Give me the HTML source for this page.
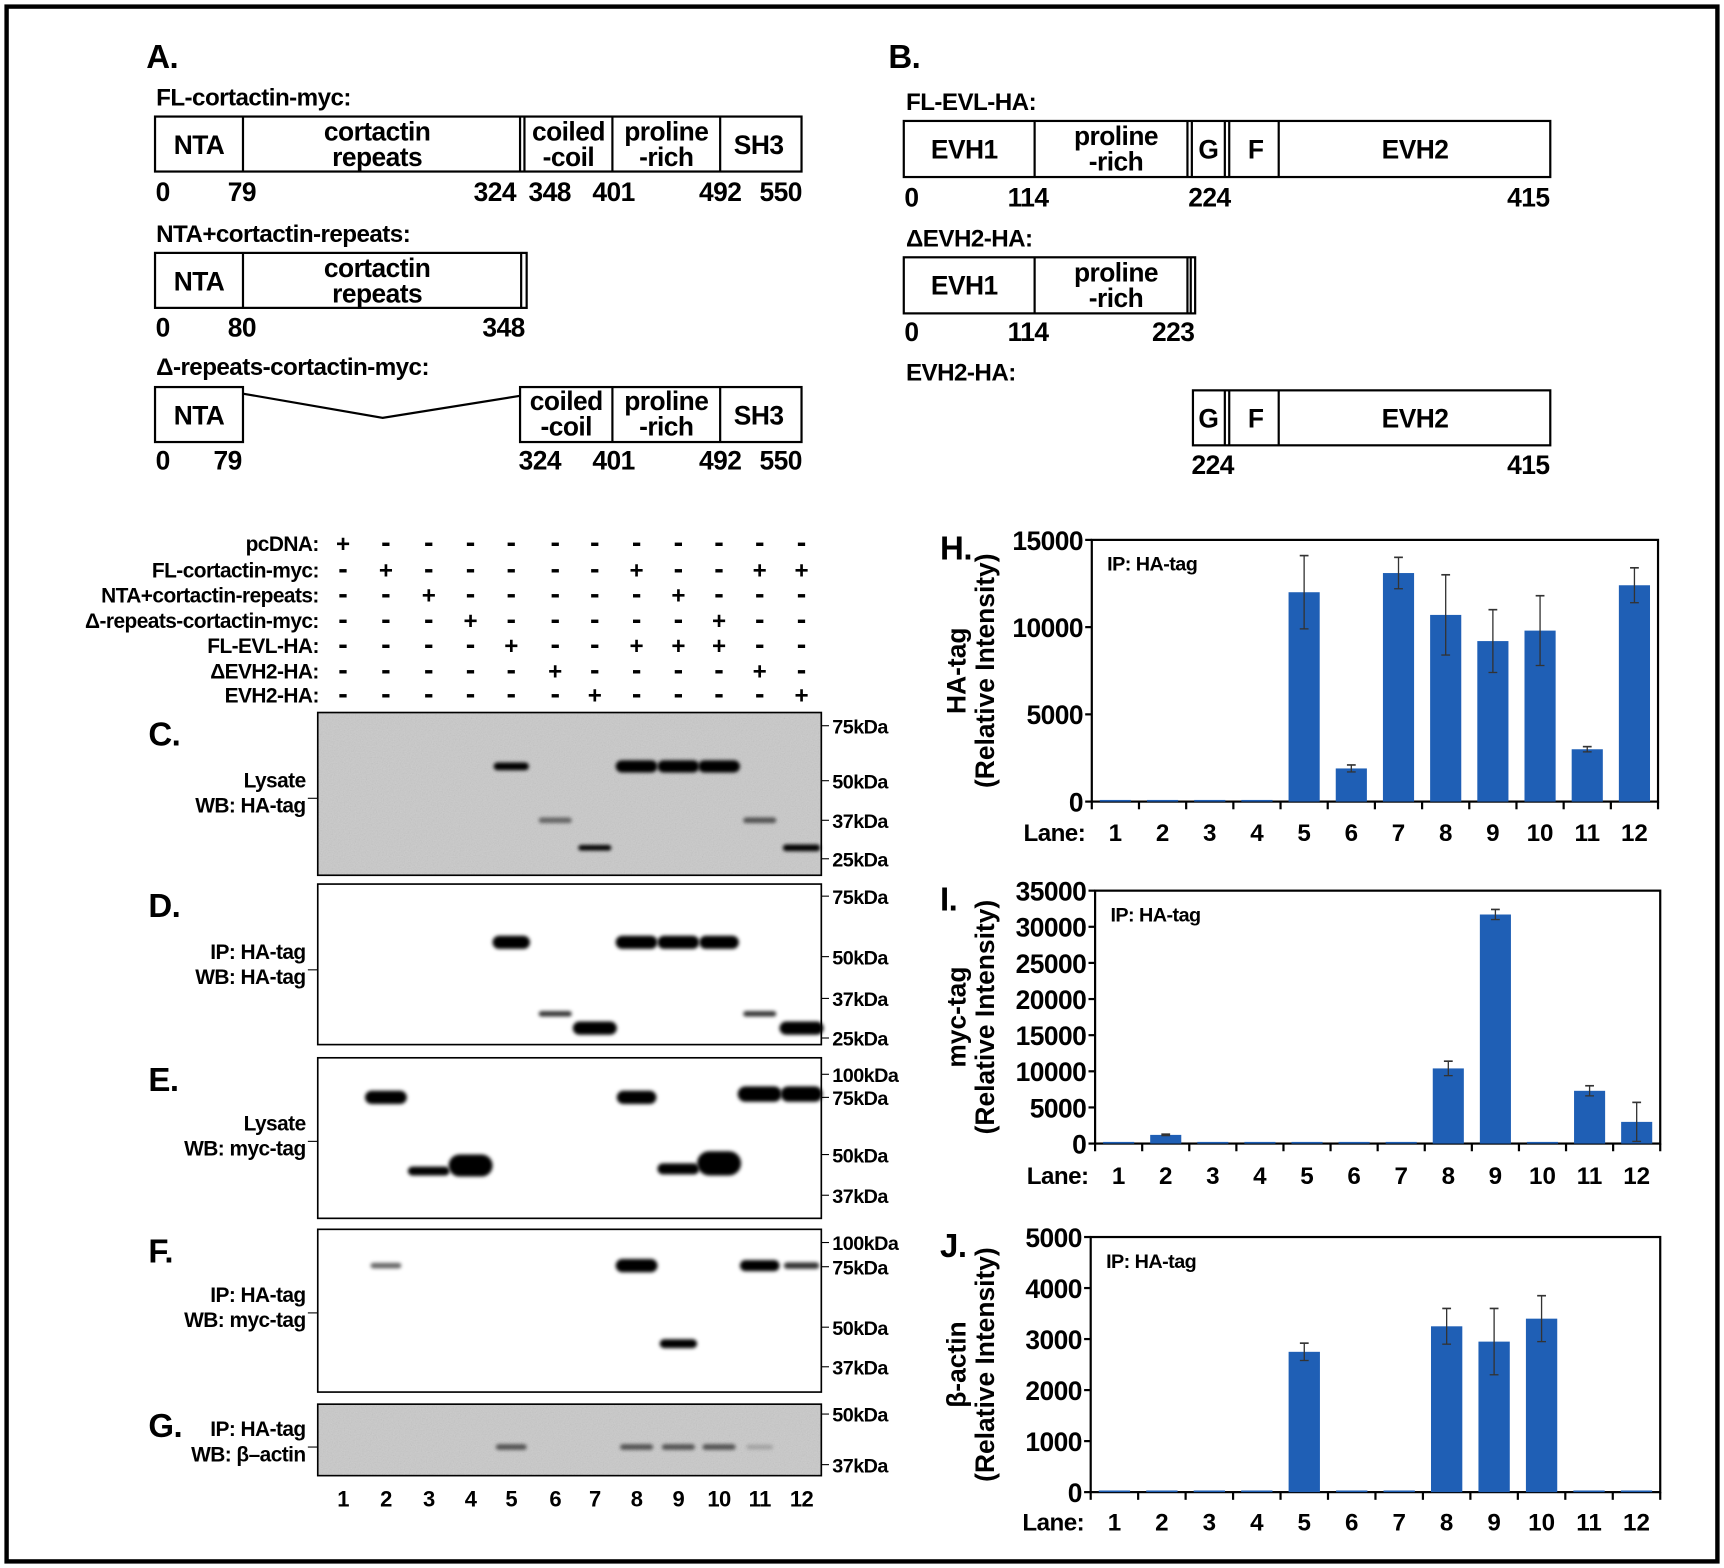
<!DOCTYPE html>
<html><head><meta charset="utf-8">
<style>
html,body{margin:0;padding:0;background:#fff;}
svg{display:block;}
text{font-family:"Liberation Sans Narrow","Liberation Sans",Arial,sans-serif;font-weight:bold;fill:#000;letter-spacing:-0.5px;}
.w{font-family:"Liberation Sans",Arial,sans-serif;letter-spacing:0;}
</style></head>
<body>
<svg id="fig" width="1724" height="1568" viewBox="0 0 1568 1426" preserveAspectRatio="none" xmlns="http://www.w3.org/2000/svg">
<defs>
<filter id="blur" x="-20%" y="-100%" width="140%" height="300%"><feGaussianBlur stdDeviation="1.6"/></filter>
<filter id="noise" x="0" y="0" width="1" height="1" filterUnits="objectBoundingBox"><feTurbulence type="fractalNoise" baseFrequency="0.9" numOctaves="2" result="n"/><feColorMatrix type="saturate" values="0"/><feComponentTransfer><feFuncA type="table" tableValues="0 0.25"/></feComponentTransfer></filter>
</defs>
<rect x="6" y="6" width="1556" height="1414" fill="none" stroke="#000" stroke-width="4"/>
<g id="diagrams" stroke-width="2"></g>
<g id="blots"></g>
<g id="charts"></g>
</svg>
<script>
// ---- chart data ----
const lanes = ["1","2","3","4","5","6","7","8","9","10","11","12"];
const haValues = [0,0,0,0,12000,1900,13100,10700,9200,9800,3000,12400];
const haErrors = [0,0,0,0,2100,200,900,2300,1800,2000,150,1000];
const haTicks = [0,5000,10000,15000];
const mycValues = [0,1200,0,0,0,0,0,10400,31700,0,7300,3000];
const mycErrors = [0,100,0,0,0,0,0,1000,700,0,700,2700];
const mycTicks = [0,5000,10000,15000,20000,25000,30000,35000];
const actinValues = [0,0,0,0,2750,0,0,3250,2950,3400,0,0];
const actinErrors = [0,0,0,0,170,0,0,350,650,450,0,0];
const actinTicks = [0,1000,2000,3000,4000,5000];

const NS="http://www.w3.org/2000/svg";
function mk(parent,tag,attrs,txt){const e=document.createElementNS(NS,tag);for(const k in attrs)e.setAttribute(k,attrs[k]);if(txt!==undefined)e.textContent=txt;parent.appendChild(e);return e;}

// ---- domain diagrams ----
const D=document.getElementById('diagrams');
function T(x,y,s,size,anchor,name){const t=mk(D,'text',{x:x,y:y,'font-size':size||24,'text-anchor':anchor||'middle'},s);

return t;}
function box(x,y,w,h,name){const r=mk(D,'rect',{x:x,y:y,width:w,height:h,fill:'#fff',stroke:'#000','stroke-width':2});

}
function vl(x,y1,y2){mk(D,'line',{x1:x,x2:x,y1:y1,y2:y2,stroke:'#000','stroke-width':2});}
function two(x,y,a,b,size){T(x,y,a,size,'middle','domain-label');T(x,y+23,b,size,'middle','domain-label');}

T(133,62,'A.',30,'start','panel-a-label');
T(142,96,'FL-cortactin-myc:',22,'start','fl-cortactin-title');
box(141,106,588,50,'fl-cortactin-box');vl(221,106,156);vl(473,106,156);vl(477,106,156);vl(557,106,156);vl(655,106,156);
T(181,140,'NTA',24);two(343,128,'cortactin','repeats',24);two(517,128,'coiled','-coil',24);two(606,128,'proline','-rich',24);T(690,140,'SH3',24);
[[148,'0'],[220,'79'],[450,'324'],[500,'348'],[558,'401'],[655,'492'],[710,'550']].forEach(a=>T(a[0],183,a[1],24));
T(142,220,'NTA+cortactin-repeats:',22,'start','nta-repeats-title');
box(141,230,338,50,'nta-repeats-box');vl(221,230,280);vl(474,230,280);
T(181,264,'NTA',24);two(343,252,'cortactin','repeats',24);
[[148,'0'],[220,'80'],[458,'348']].forEach(a=>T(a[0],306,a[1],24));
T(142,341,'Δ-repeats-cortactin-myc:',22,'start','delta-repeats-title');
box(141,352,80,50,'delta-nta-box');box(473,352,256,50,'delta-cterm-box');vl(557,352,402);vl(655,352,402);
mk(D,'polyline',{points:'221,358 348,380 473,360',fill:'none',stroke:'#000','stroke-width':2});
T(181,386,'NTA',24);two(515,373,'coiled','-coil',24);two(606,373,'proline','-rich',24);T(690,386,'SH3',24);
[[148,'0'],[207,'79'],[491,'324'],[558,'401'],[655,'492'],[710,'550']].forEach(a=>T(a[0],427,a[1],24));

T(808,62,'B.',30,'start','panel-b-label');
T(824,100,'FL-EVL-HA:',22,'start','fl-evl-title');
box(822,110,588,51,'fl-evl-box');vl(941,110,161);vl(1080,110,161);vl(1084,110,161);vl(1114,110,161);vl(1118,110,161);vl(1163,110,161);
T(877,144,'EVH1',24);two(1015,132,'proline','-rich',24);T(1099,144,'G',24);T(1142,144,'F',24);T(1287,144,'EVH2',24);
[[829,'0'],[935,'114'],[1100,'224'],[1390,'415']].forEach(a=>T(a[0],188,a[1],24));
T(824,224,'ΔEVH2-HA:',22,'start','delta-evh2-title');
box(822,234,265,51,'delta-evh2-box');vl(941,234,285);vl(1080,234,285);vl(1083,234,285);
T(877,268,'EVH1',24);two(1015,256,'proline','-rich',24);
[[829,'0'],[935,'114'],[1067,'223']].forEach(a=>T(a[0],310,a[1],24));
T(824,346,'EVH2-HA:',22,'start','evh2-title');
box(1085,355,325,50,'evh2-box');vl(1114,355,405);vl(1118,355,405);vl(1163,355,405);
T(1099,389,'G',24);T(1142,389,'F',24);T(1287,389,'EVH2',24);
[[1103,'224'],[1390,'415']].forEach(a=>T(a[0],431,a[1],24));

// ---- blots ----
const B=document.getElementById('blots');
const laneX=[312,351,390,428,465,505,541,579,617,654,691,729];
const rowNames=['pcDNA:','FL-cortactin-myc:','NTA+cortactin-repeats:','Δ-repeats-cortactin-myc:','FL-EVL-HA:','ΔEVH2-HA:','EVH2-HA:'];
const rowY=[494,518,541,564,587,610,632];
const plus=[[1],[2,8,11,12],[3,9],[4,10],[5,8,9,10],[6,11],[7,12]];
rowNames.forEach((n,i)=>{
  const t=mk(B,'text',{x:290,y:rowY[i]+7,'font-size':19,'text-anchor':'end'},n);
  
  
  laneX.forEach((x,j)=>{const p=plus[i].includes(j+1);
    const m=mk(B,'text',{x:x,y:rowY[i]+8,'font-size':p?22:26,'text-anchor':'middle',class:'w'},p?'+':'-');
    
    });
});
function blot(letter,y0,h,gray,labels,markers,bands){
  const r=mk(B,'rect',{x:289,y:y0,width:458,height:h,fill:gray?'#c9c9c9':'#fff',stroke:'#000','stroke-width':1.5});
  
  
  if(gray) mk(B,'rect',{x:290,y:y0+1,width:456,height:h-2,filter:'url(#noise)'});
  const L=mk(B,'text',{x:135,y:y0+30,'font-size':30},letter+'.');
  
  
  labels.forEach((s,i)=>{const t=mk(B,'text',{x:278,y:labels.ys[i],'font-size':19,'text-anchor':'end'},s);
    
    });
  mk(B,'line',{x1:280,x2:289,y1:labels.ys[0]+10,y2:labels.ys[0]+10,stroke:'#000'});
  markers.forEach(m=>{mk(B,'line',{x1:747,x2:754,y1:m[1],y2:m[1],stroke:'#000'});
    const t=mk(B,'text',{x:757,y:m[1]+7,'font-size':18},m[0]);
    
    });
  bands.forEach(b=>{const w=b[3]||34;const e=mk(B,'rect',{x:laneX[b[0]-1]-w/2,y:b[1]-b[2]/2,width:w,height:b[2],rx:b[2]/2,fill:'#000','fill-opacity':b[4]||1,filter:'url(#blur)'});
    
    });
}
let lb;
lb=['Lysate','WB: HA-tag'];lb.ys=[716,739];
blot('C',648,148,true,lb,[['75kDa',660],['50kDa',710],['37kDa',746],['25kDa',781]],
 [[5,697,7,32],[8,697,11,38],[9,697,11,38],[10,697,11,38],[6,746,5,30,0.5],[7,771,5,30],[11,746,5,30,0.6],[12,771,6,34]]);
lb=['IP: HA-tag','WB: HA-tag'];lb.ys=[872,895];
blot('D',804,146,false,lb,[['75kDa',815],['50kDa',870],['37kDa',908],['25kDa',944]],
 [[5,857,12,34],[8,857,12,38],[9,857,12,38],[10,857,12,36],[6,922,5,30,0.8],[11,922,5,30,0.8],[7,935,12,40],[12,935,12,40]]);
lb=['Lysate','WB: myc-tag'];lb.ys=[1028,1051];
blot('E',962,146,false,lb,[['100kDa',977],['75kDa',998],['50kDa',1050],['37kDa',1087]],
 [[2,998,12,38],[8,998,12,36],[11,995,14,40],[12,995,14,38],[3,1065,8,38],[4,1060,20,40],[9,1063,10,38],[10,1058,22,40]]);
lb=['IP: HA-tag','WB: myc-tag'];lb.ys=[1184,1207];
blot('F',1118,148,false,lb,[['100kDa',1130],['75kDa',1152],['50kDa',1207],['37kDa',1243]],
 [[2,1151,5,28,0.6],[8,1151,12,38],[11,1151,10,36],[12,1151,6,32,0.8],[9,1222,8,34]]);
lb=['IP: HA-tag','WB: β–actin'];lb.ys=[1306,1329];
blot('G',1277,65,true,lb,[['50kDa',1286],['37kDa',1332]],
 [[5,1316,5,28,0.6],[8,1316,5,30,0.6],[9,1316,5,30,0.6],[10,1316,5,30,0.6],[11,1316,4,24,0.2]]);
laneX.forEach((x,i)=>{const t=mk(B,'text',{x:x,y:1370,'font-size':20,'text-anchor':'middle'},lanes[i]);
  
  });

// ---- charts ----
const C=document.getElementById('charts');
function chart(letter,x0,x1,yT,yB,ticks,vals,errs,title,laneY){
  const g=mk(C,'g',{});
  
  
  const max=ticks[ticks.length-1];
  const yS=v=>yB-(v/max)*(yB-yT);
  const bw=(x1-x0)/lanes.length;
  const xS=i=>x0+bw*(i+0.5);
  mk(g,'rect',{x:x0,y:yT,width:x1-x0,height:yB-yT,fill:'#fff',stroke:'#000','stroke-width':2});
  ticks.forEach(t=>{mk(g,'line',{x1:x0-6,x2:x0,y1:yS(t),y2:yS(t),stroke:'#000','stroke-width':2});
    const tx=mk(g,'text',{x:x0-8,y:yS(t)+9,'font-size':24,'text-anchor':'end'},t);
    
    });
  for(let i=0;i<=lanes.length;i++)mk(g,'line',{x1:x0+bw*i,x2:x0+bw*i,y1:yB,y2:yB+7,stroke:'#000','stroke-width':2});
  vals.forEach((v,i)=>{
    const h=Math.max(yB-yS(v),1.5);
    const b=mk(g,'rect',{x:xS(i)-bw*0.33,y:yB-h,width:bw*0.66,height:h,fill:'#1f5fb5'});
    
    
    if(errs[i]>0){const a=yS(v+errs[i]),c=yS(Math.max(v-errs[i],0));
      mk(g,'line',{x1:xS(i),x2:xS(i),y1:a,y2:c,stroke:'#333','stroke-width':1.2});
      mk(g,'line',{x1:xS(i)-4,x2:xS(i)+4,y1:a,y2:a,stroke:'#333','stroke-width':1.5});
      mk(g,'line',{x1:xS(i)-4,x2:xS(i)+4,y1:c,y2:c,stroke:'#333','stroke-width':1.2});}
    const lt=mk(g,'text',{x:xS(i),y:laneY,'font-size':22,'text-anchor':'middle',class:'w','font-weight':'normal'},lanes[i]);
    
    
  });
  const ln=mk(g,'text',{x:x0-6,y:laneY,'font-size':22,'text-anchor':'end'},'Lane:');
  
  
  const ip=mk(g,'text',{x:x0+14,y:yT+28,'font-size':18},'IP: HA-tag');
  
  
  const pl=mk(g,'text',{x:855,y:yT+18,'font-size':30},letter+'.');
  
  
  const cy=(yT+yB)/2;
  const yt=mk(g,'text',{x:0,y:0,'font-size':24,'text-anchor':'middle',class:'w','font-weight':'normal',transform:'translate(878,'+cy+') rotate(-90)'});
  
  
  mk(yt,'tspan',{x:0,dy:0},title);
  mk(yt,'tspan',{x:0,dy:26},'(Relative Intensity)');
}
chart('H',993,1508,491,729,haTicks,haValues,haErrors,'HA-tag',765);
chart('I',996,1510,810,1040,mycTicks,mycValues,mycErrors,'myc-tag',1077);
chart('J',992,1510,1125,1357,actinTicks,actinValues,actinErrors,'β-actin',1392);
</script>
</body></html>
